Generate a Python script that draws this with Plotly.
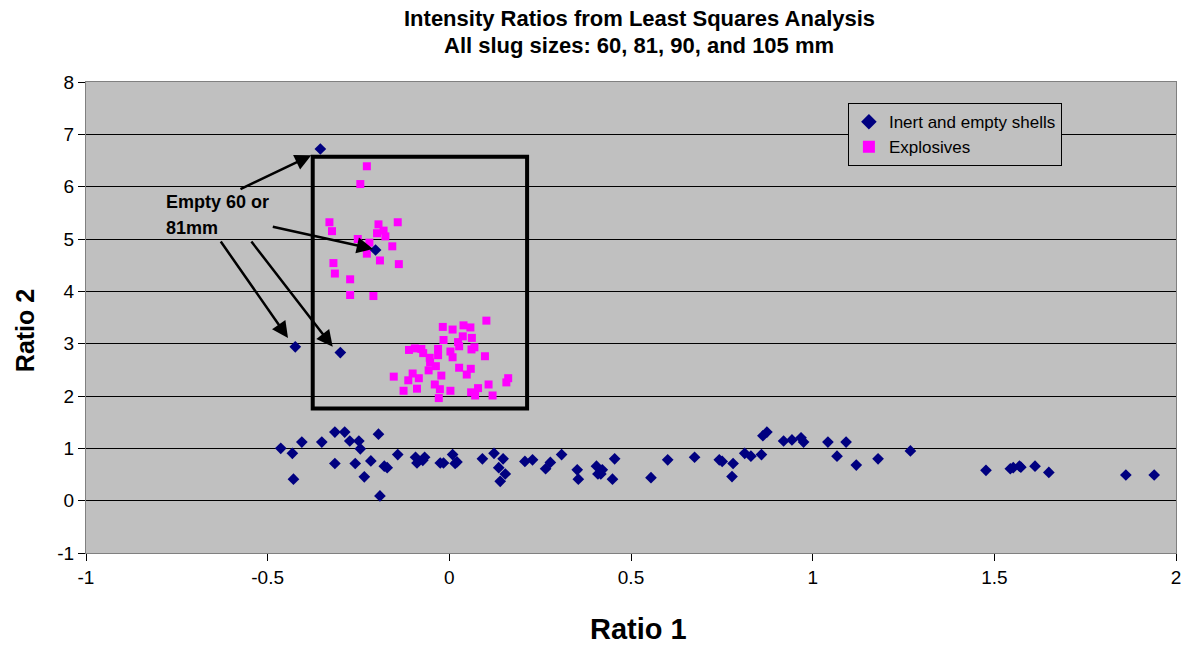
import plotly.graph_objects as go

# ---- data ----
inert_x = [-0.355, -0.424, -0.300, -0.203,
           -0.464, -0.432, -0.429, -0.406, -0.351, -0.315, -0.315, -0.288, -0.274, -0.249,
           -0.245, -0.259, -0.234, -0.216, -0.195, -0.191, -0.179, -0.171, -0.142, -0.093,
           -0.089, -0.073, -0.068, -0.025, -0.016, 0.009, 0.016, 0.021, 0.091, 0.123,
           0.148, 0.136, 0.154, 0.140, 0.208, 0.229, 0.265, 0.278, 0.309, 0.352, 0.355,
           0.405, 0.409, 0.421, 0.417, 0.449, 0.455, 0.555, 0.601, 0.675, 0.743, 0.751,
           0.778, 0.781, 0.813, 0.830, 0.859, 0.863, 0.874, 0.920, 0.943, 0.968, 0.975,
           1.042, 1.067, 1.092, 1.120, 1.180, 1.269, 1.477, 1.544, 1.552, 1.569, 1.573,
           1.612, 1.650, 1.862, 1.940]
inert_y = [6.72, 2.94, 2.83, 4.79,
           1.00, 0.905, 0.41, 1.12, 1.12, 1.31, 0.71, 1.31, 1.14, 1.14,
           0.99, 0.71, 0.455, 0.76, 1.27, 0.09, 0.66, 0.63, 0.88, 0.83,
           0.72, 0.77, 0.83, 0.72, 0.72, 0.88, 0.71, 0.74, 0.80, 0.905,
           0.80, 0.63, 0.51, 0.37, 0.75, 0.78, 0.61, 0.73, 0.88, 0.59, 0.41,
           0.66, 0.51, 0.59, 0.51, 0.41, 0.80, 0.44, 0.78, 0.83, 0.78, 0.75,
           0.46, 0.71, 0.905, 0.85, 0.88, 1.24, 1.31, 1.14, 1.16, 1.20, 1.12,
           1.12, 0.85, 1.12, 0.68, 0.80, 0.95, 0.58, 0.61, 0.63, 0.66, 0.64,
           0.66, 0.54, 0.49, 0.49]

expl_x = [-0.227, -0.245, -0.330, -0.323, -0.195, -0.142, -0.199, -0.181, -0.176, -0.252,
          -0.220, -0.227, -0.191, -0.157, -0.139, -0.319, -0.315, -0.273, -0.273, -0.209,
          0.102, -0.018, 0.009, 0.039, 0.058, 0.037, -0.016, 0.062, 0.024, 0.027,
          0.069, 0.061, -0.111, -0.095, -0.077, -0.072, -0.031, -0.031, 0.003, 0.009,
          0.098, -0.054, -0.053, -0.037, -0.057, 0.027, 0.059, 0.048, -0.022, -0.153,
          -0.101, -0.084, -0.113, 0.162, 0.157, -0.040, -0.089, -0.126, -0.026, 0.003,
          0.108, 0.079, 0.060, 0.071, 0.119, -0.029]
expl_y = [6.39, 6.05, 5.32, 5.15, 5.28, 5.32, 5.11, 5.16, 5.05, 5.00,
          4.93, 4.72, 4.59, 4.86, 4.52, 4.54, 4.34, 4.23, 3.93, 3.91,
          3.44, 3.32, 3.27, 3.35, 3.31, 3.14, 3.07, 3.11, 3.03, 2.95,
          2.93, 2.89, 2.88, 2.91, 2.90, 2.82, 2.90, 2.78, 2.85, 2.74,
          2.76, 2.73, 2.64, 2.57, 2.49, 2.54, 2.52, 2.41, 2.39, 2.37,
          2.43, 2.34, 2.30, 2.34, 2.26, 2.22, 2.14, 2.10, 2.13, 2.10,
          2.22, 2.15, 2.07, 2.01, 2.01, 1.96]

x_ticks = [-1, -0.5, 0, 0.5, 1, 1.5, 2]
y_ticks = [-1, 0, 1, 2, 3, 4, 5, 6, 7, 8]

title_lines = ["Intensity Ratios from Least Squares Analysis",
               "All slug sizes: 60, 81, 90, and 105 mm"]
x_title = "Ratio 1"
y_title = "Ratio 2"

# box around explosives cluster
box_x = [-0.376, 0.214]
box_y = [1.76, 6.57]

# arrows: (tail_x, tail_y, head_x, head_y)
arrows = [(-0.579, 5.94, -0.380, 6.60),
          (-0.490, 5.24, -0.210, 4.81),
          (-0.632, 4.98, -0.444, 3.11),
          (-0.548, 4.98, -0.321, 2.94)]
label_lines = ["Empty 60 or", "81mm"]
label_pos = [(-0.784, 5.71), (-0.784, 5.21)]

FONT = "Arial, Liberation Sans, sans-serif"
W, H = 1193, 645
ML, MR, MT, MB = 86, 14, 82, 92
PW, PH = W - ML - MR, H - MT - MB


def px_to_paper(px, py):
    return (px - ML) / PW, (H - MB - py) / PH


fig = go.Figure()
fig.add_trace(go.Scatter(x=expl_x, y=expl_y, mode="markers", name="Explosives",
                         marker=dict(symbol="square", size=8, color="#ff00ff",
                                     line=dict(width=0))))
fig.add_trace(go.Scatter(x=inert_x, y=inert_y, mode="markers", name="Inert and empty shells",
                         marker=dict(symbol="diamond", size=9, color="#000080",
                                     line=dict(width=0))))

fig.add_shape(type="rect", xref="x", yref="y", x0=box_x[0], x1=box_x[1],
              y0=box_y[0], y1=box_y[1], line=dict(color="black", width=4))

for tx, ty, hx, hy in arrows:
    fig.add_annotation(x=hx, y=hy, ax=tx, ay=ty, xref="x", yref="y", axref="x", ayref="y",
                       text="", showarrow=True, arrowhead=2, arrowsize=1.3,
                       arrowwidth=2.5, arrowcolor="black", standoff=0)

for txt, (lx, ly) in zip(label_lines, label_pos):
    fig.add_annotation(x=lx, y=ly, xref="x", yref="y", text="<b>%s</b>" % txt,
                       showarrow=False, xanchor="left", yanchor="middle",
                       font=dict(family=FONT, size=18, color="black"))

# title as two lines (pixel centers ~18 and ~45)
for txt, py in zip(title_lines, [18, 45]):
    ax_, ay_ = px_to_paper(641, py)
    fig.add_annotation(x=ax_, y=ay_, xref="paper", yref="paper",
                       text="<b>%s</b>" % txt, showarrow=False,
                       xanchor="center", yanchor="middle",
                       font=dict(family=FONT, size=22, color="black"))

# axis titles
ax_, ay_ = px_to_paper(640, 629)
fig.add_annotation(x=ax_, y=ay_, xref="paper", yref="paper", text="<b>%s</b>" % x_title,
                   showarrow=False, xanchor="center", yanchor="middle",
                   font=dict(family=FONT, size=29, color="black"))
ax_, ay_ = px_to_paper(25, 331)
fig.add_annotation(x=ax_, y=ay_, xref="paper", yref="paper", text="<b>%s</b>" % y_title,
                   showarrow=False, xanchor="center", yanchor="middle", textangle=-90,
                   font=dict(family=FONT, size=25, color="black"))

fig.update_layout(
    width=W, height=H,
    margin=dict(l=ML, r=MR, t=MT, b=MB),
    paper_bgcolor="white", plot_bgcolor="#c0c0c0",
    font=dict(family=FONT, color="black"),
    showlegend=True,
    legend=dict(x=0.699, y=0.955, xanchor="left", yanchor="top",
                bgcolor="#c0c0c0", bordercolor="black", borderwidth=1,
                font=dict(family=FONT, size=17, color="black"),
                traceorder="reversed", itemsizing="constant"),
)

fig.update_xaxes(range=[-1, 2], tickvals=x_ticks, ticktext=[str(v) for v in x_ticks],
                 showgrid=False, zeroline=False, showline=True, linecolor="#808080",
                 linewidth=1, mirror=True, ticks="outside", ticklen=7, tickcolor="black",
                 tickfont=dict(family=FONT, size=19, color="black"))
fig.update_yaxes(range=[-1, 8], tickvals=y_ticks, ticktext=[str(v) for v in y_ticks],
                 showgrid=True, gridcolor="black", gridwidth=1, zeroline=False,
                 showline=True, linecolor="#808080", linewidth=1, mirror=True,
                 ticks="outside", ticklen=7, tickcolor="black",
                 tickfont=dict(family=FONT, size=19, color="black"))

fig.write_html("out.html")
